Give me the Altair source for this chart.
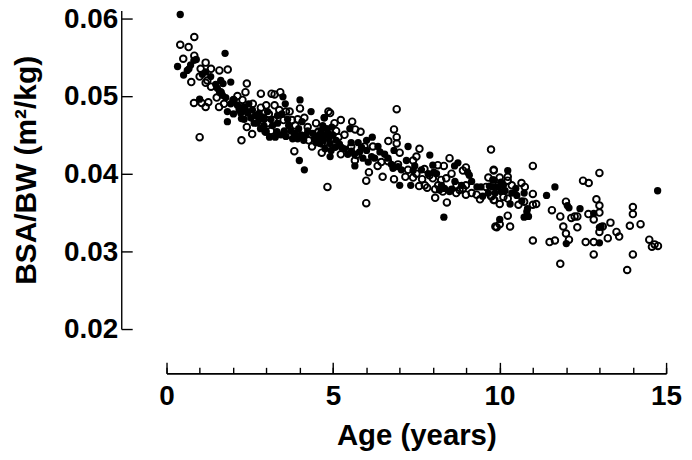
import altair as alt
import pandas as pd

filled = """.39,.0605 1.73,.0555 .31,.0538 .49,.0527 .65,.0535 .70,.0540 .6,.0533 .87,.0547 .80,.0546 1.05,.0528 1.15,.0531
1.6,.0520 1.9,.0518 1.67,.0516 .97,.0496 1.57,.0505 1.65,.0501 1.8,.0480 1.98,.0477 1.8,.0467 2.22,.0471 2.29,.0486 2.34,.0482 2.44,.0490
2.64,.0475 2.74,.0469 2.84,.0473 2.69,.0465 2.89,.0462 2.79,.0458 3.46,.0499 3.53,.0490 3.97,.0495 4.3,.0480 4.7,.0472 3.43,.0477
3.06,.0447 3.28,.0454 3.23,.0447 3.83,.0452 3.93,.0458 4.03,.0467 4.08,.0443 4.52,.0447 4.72,.0450 4.77,.0458 3.63,.0462
4.69,.0472 4.92,.0460 5.46,.0458 6.13,.0447 5.96,.0443 5.71,.0440 5.51,.0429 5.96,.0430 6.36,.0428 5.61,.0410 6.01,.0415 6.11,.0422
7.2,.0435 6.78,.0430 7.85,.0424 6.75,.0407 6.9,.0409 7.15,.0417 6.95,.0385 7.28,.0385 7.94,.0411 7.97,.0402 8.69,.0414 8.59,.0410
8.27,.0344 8.98,.0402 9.03,.0398 9.26,.0383 9.38,.0383 9.76,.0392 9.73,.0383 9.43,.0371 8.14,.0379 8.44,.0377 8.29,.0381
4.82,.0452 4.67,.0443 4.87,.0439 5.02,.0434 4.72,.0432 4.87,.0422 5.21,.0434 4.57,.0439 7.35,.0404 5.81,.0434
10.18,.0404 9.73,.0392 9.98,.0389 9.63,.0384 9.88,.0383 9.98,.0377 10.25,.0361 10.42,.0381 10.45,.0372 10.67,.0375 10.77,.0355
10.75,.0351 10.67,.0344 9.94,.0341 11.34,.0372 11.59,.0383 11.96,.0359 12.01,.0356 12.34,.0355 12.75,.0349 11.93,.0310
12.92,.0331 12.97,.0332 12.92,.0311 14.66,.0378
2.5,.0472 2.6,.0465 3.0,.0480 3.1,.0470 3.3,.0465 3.6,.0470 3.7,.0455 2.95,.0455 3.4,.0450 4.2,.0455 4.4,.0445 4.6,.0455 3.95,.0417 4.1,.0405 2.3,.0470 2.15,.0482
1.3,.0525 1.45,.0515 1.5,.0510 1.75,.0498 1.9,.0490 2.0,.0495 2.1,.0488 2.2,.0478 2.4,.0478 2.55,.0482 2.75,.0478 2.9,.0470 3.15,.0462 3.3,.0475
3.5,.0455 3.55,.0448 3.75,.0445 3.9,.0445 4.0,.0450 4.15,.0450 4.35,.0452 4.45,.0440 4.55,.0450 4.65,.0462 4.85,.0447 4.95,.0450 5.05,.0443 5.15,.0438
5.3,.0432 4.9,.0430 5.4,.0425 5.5,.0440 5.6,.0425 5.75,.0428 5.85,.0420 6.2,.0420 6.3,.0435 6.5,.0425 6.6,.0420 6.7,.0412 7.0,.0405 7.4,.0410 7.6,.0405
7.8,.0400 8.05,.0400 8.2,.0385 8.5,.0380 8.6,.0390 8.8,.0385 9.1,.0390 9.6,.0375 9.8,.0375 10.05,.0385 10.1,.0378 10.3,.0375 10.6,.0365 10.8,.0345""".split()

opened = """.81,.0576 .39,.0566 .64,.0563 .48,.0548 .81,.0552 1.15,.0543 1.31,.0535 1.56,.0533 1.81,.0534 .97,.0525 .72,.0518 1.15,.0517 1.31,.0512
2.38,.0516 2.34,.0505 2.80,.0503 3.12,.0503 3.21,.0502 3.38,.0505 .80,.0491 1.03,.0491 1.23,.0492 1.15,.0486 1.48,.0498 1.55,.0486 1.70,.0490
1.98,.0495 .97,.0447 2.22,.0443 2.38,.0460 2.54,.0451 3.21,.0488 2.96,.0488 2.56,.0490 3.66,.0480 3.97,.0484 4.82,.0480 4.2,.0460 4.52,.0454
3.63,.0450 4.23,.0443 3.8,.0429 4.33,.0435 4.62,.0439 3.04,.0477 3.18,.0469 3.48,.0469 3.83,.0462 3.73,.0469 2.94,.0454
4.87,.0478 5.19,.0469 5.53,.0467 5.78,.0454 5.62,.0457 6.86,.0483 6.78,.0457 6.86,.0447 6.86,.0439 6.61,.0442 6.95,.0427 7.54,.0432 7.45,.0422
7.35,.0417 6.6,.0416 6.29,.0410 6.03,.0402 5.95,.0391 6.44,.0396 6.78,.0393 7.12,.0396 7.45,.0400 7.69,.0406 7.62,.0393 7.53,.0384 7.77,.0382
4.79,.0383 5.95,.0362 4.62,.0427 5.19,.0425 5.61,.0417 5.12,.0447 5.05,.0455 8.44,.0420 8.27,.0410 8.09,.0411 8.93,.0408 8.84,.0404 7.84,.0398
7.94,.0394 8.34,.0394 8.19,.0392 8.93,.0385 8.84,.0381 8.64,.0375 8.93,.0373 8.01,.0369 8.36,.0363 8.01,.0380 8.24,.0377 9.68,.0431 9.76,.0405
9.53,.0383 9.68,.0371 9.35,.0367 9.78,.0366 9.81,.0332 8.74,.0379 5.66,.0424 4.52,.0454
10.93,.0410 9.76,.0404 9.94,.0395 10.18,.0391 10.18,.0396 10.59,.0388 10.69,.0383 10.93,.0374 10.67,.0364 10.93,.0360 11.03,.0361 9.7,.0371
9.76,.0366 9.94,.0361 10.18,.0368 10.18,.0346 9.94,.0335 9.85,.0331 10.25,.0332 10.93,.0314 11.43,.0312 11.59,.0314 11.5,.0353 11.75,.0345
11.92,.0364 12.43,.0391 12.6,.0388 12.92,.0401 12.83,.0367 12.92,.0359 12.92,.0350 12.59,.0348 12.75,.0341 12.08,.0343 12.18,.0345 12.26,.0345
11.84,.0332 11.92,.0323 12.01,.0315 12.26,.0331 12.51,.0312 12.75,.0312 12.75,.0296 11.75,.0284 13.17,.0317 13.25,.0337 13.02,.0332 12.92,.0325
13.43,.0325 13.51,.0319 13.83,.0333 13.92,.0348 13.92,.0357 14.15,.0335 13.92,.0296 13.75,.0276 14.41,.0315 14.49,.0306 14.57,.0309 14.67,.0307
1.0,.0535 1.2,.0520 1.6,.0505 2.1,.0500 2.25,.0495 2.6,.0470 2.8,.0485 3.0,.0465 3.1,.0455 3.35,.0482 3.55,.0480 3.9,.0470 4.1,.0472 4.45,.0465
4.7,.0440 4.9,.0445 5.0,.0465 5.3,.0450 5.5,.0435 5.9,.0435 6.15,.0435 6.4,.0415 6.9,.0412 7.2,.0405 7.35,.0395 7.7,.0385 8.1,.0385 8.5,.0400
8.65,.0385 9.1,.0375 9.25,.0373 9.6,.0395 9.9,.0385 10.05,.0370 10.3,.0385 10.5,.0360""".split()

xmajor = [0, 5, 10, 15]
xminor = list(range(16))
yticks = [0.02, 0.03, 0.04, 0.05, 0.06]

# The ages above were first read with a ruler of 33.6 px per year from x = 168;
# the zoomed ticks give 33.45 px per year from x = 167.3, so the reading is corrected here.
AGE_READ_GAIN = 1.0045
AGE_READ_SHIFT = 0.02


def frame(rows):
    pairs = [r.split(",") for r in rows]
    return pd.DataFrame({"age": [float(a) * AGE_READ_GAIN + AGE_READ_SHIFT for a, _ in pairs],
                         "bsa": [float(b) for _, b in pairs]})


FONT = "Liberation Sans"
xs = alt.Scale(domain=[0, 15], nice=False, zero=False)
ys = alt.Scale(domain=[0.02, 0.061], nice=False, zero=False)


def xax(**k):
    base = dict(title=None, labels=False, ticks=True, domain=True, grid=False, domainColor="black",
                tickColor="black", domainWidth=1.4, tickWidth=1.4)
    base.update(k)
    return alt.Axis(**base)


x_major = xax(orient="top", offset=-364.5, values=xmajor, tickSize=11)
x_minor = xax(orient="top", offset=-364.5, values=xminor, tickSize=6)
x_text = alt.Axis(orient="bottom", offset=44.5, values=xmajor, title="Age (years)", labelFontSize=28, titleFontSize=29.5,
                  labelFont=FONT, titleFont=FONT, labelFontWeight="bold", titleFontWeight="bold", labelColor="black",
                  titleColor="black", ticks=False, domain=False, grid=False, labelPadding=9, titlePadding=12, format="d",
                  labelFlush=False)
y_line = alt.Axis(orient="right", offset=-547.5, values=yticks, title=None, labels=False, grid=False,
                  tickSize=11, domainColor="black", tickColor="black", domainWidth=1.4, tickWidth=1.4)
y_text = alt.Axis(orient="left", offset=45, values=yticks, title="BSA/BW (m²/kg)", labelFontSize=28, titleFontSize=30,
                  labelFont=FONT, titleFont=FONT, labelFontWeight="bold", titleFontWeight="bold", labelColor="black",
                  titleColor="black", ticks=False, domain=False, grid=False, labelPadding=4, titlePadding=22, format=".2f",
                  labelOffset=1)

open_layer = alt.Chart(frame(opened)).mark_point(shape="circle", filled=False, stroke="black", strokeWidth=1.9, size=44, opacity=1, clip=False).encode(
    x=alt.X("age:Q", scale=xs, axis=x_major), y=alt.Y("bsa:Q", scale=ys, axis=y_line))
fill_layer = alt.Chart(frame(filled)).mark_point(shape="circle", filled=True, fill="black", size=54, opacity=1, clip=False).encode(
    x=alt.X("age:Q", scale=xs, axis=x_text), y=alt.Y("bsa:Q", scale=ys, axis=y_text))
minor_layer = alt.Chart(frame(filled[:1])).mark_point(opacity=0).encode(
    x=alt.X("age:Q", scale=xs, axis=x_minor), y=alt.Y("bsa:Q", scale=ys, axis=None))

chart = alt.layer(open_layer, fill_layer, minor_layer).resolve_axis(x="independent", y="independent").properties(
    width=502, height=320, padding={"left": 159.3, "top": 1.5, "right": 18, "bottom": 129},
    autosize=alt.AutoSizeParams(type="none"), background="white"
).configure_view(stroke=None)

chart.save("out.html", embed_options={"renderer": "svg", "actions": False})
